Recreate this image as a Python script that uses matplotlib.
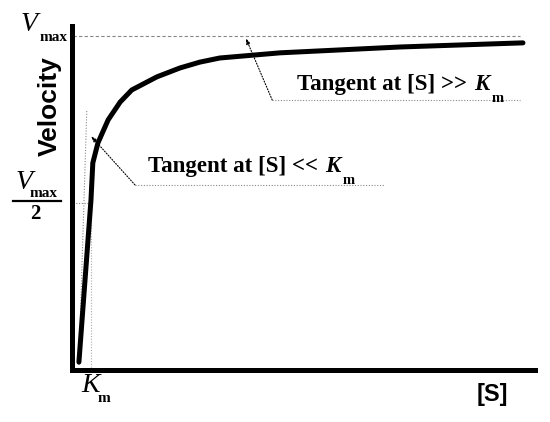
import numpy as np
import matplotlib
matplotlib.use("Agg")
from matplotlib import pyplot as plt

# curve (arbitrary units, axis 0..100 / 0..1)
S = [1.6, 4.2, 4.6, 5.7, 7.9, 10.5, 13.0, 18.4, 23.4, 27.7, 32.0, 45.0, 70.9, 97.4]
V = [0.023, 0.494, 0.602, 0.660, 0.727, 0.779, 0.814, 0.852, 0.878, 0.895, 0.907, 0.922, 0.939, 0.951]
vmax = 0.971
km = 4.2
tangent_low_x = [1.6, 3.3]
tangent_low_y = [0.015, 0.756]

W, H = 550, 422
fig = plt.figure(figsize=(W / 100, H / 100), dpi=100)
ax = fig.add_axes([71.5 / W, 1 - 370 / H, (535 - 71.5) / W, (370 - 26) / H])
ax.set_xlim(0, 100)
ax.set_ylim(0, 1)
for side in ['top', 'right']:
    ax.spines[side].set_visible(False)
for side in ['left', 'bottom']:
    ax.spines[side].set_linewidth(3.6)
    ax.spines[side].set_capstyle('projecting')
ax.set_xticks([])
ax.set_yticks([])

gray = '#888888'
# reference lines
ax.plot([0.3, 96.7], [vmax, vmax], ls=(0, (3, 2)), color=gray, lw=0.8)
ax.plot([0.3, km], [vmax / 2, vmax / 2], ls=(0, (1, 1.5)), color=gray, lw=0.8)
ax.plot([km, km], [0, vmax / 2], ls=(0, (1, 1.5)), color='#aaaaaa', lw=0.8)
ax.plot(tangent_low_x, tangent_low_y, ls=(0, (1, 1.5)), color=gray, lw=0.8)

# the curve
ax.plot(S, V, color='black', lw=3.6, solid_capstyle='round', solid_joinstyle='round')

# annotation leaders
ax.plot([13.7, 67.5], [0.538, 0.538], ls=(0, (1, 1.5)), color=gray, lw=0.8)
ax.annotate('', xy=(4.2, 0.68), xytext=(13.7, 0.538),
            arrowprops=dict(arrowstyle='-|>,head_length=0.35,head_width=0.12',
                            color='black', lw=0.8, ls=(0, (1, 1.5)), shrinkA=0, shrinkB=0))
ax.plot([43.3, 96.7], [0.785, 0.785], ls=(0, (1, 1.5)), color=gray, lw=0.8)
ax.annotate('', xy=(37.6, 0.965), xytext=(43.3, 0.785),
            arrowprops=dict(arrowstyle='-|>,head_length=0.35,head_width=0.12',
                            color='black', lw=0.8, ls=(0, (1, 1.5)), shrinkA=0, shrinkB=0))


def ft(x, y, s, **kw):
    return fig.text(x / W, 1 - y / H, s, **kw)


serif = 'Liberation Serif'
sans = 'Liberation Sans'
renderer = fig.canvas.get_renderer()


def tangent_label(x, y, s):
    t = ft(x, y, s, family=serif, weight='bold', size=16.5, va='baseline')
    x1 = t.get_window_extent(renderer).x1
    k = ft(x1 + 7, y, 'K', family=serif, weight='bold', style='italic', size=16.5, va='baseline')
    x2 = k.get_window_extent(renderer).x1
    ft(x2 + 2, y + 12, 'm', family=serif, weight='bold', size=10.5, va='baseline')


tangent_label(148, 172, 'Tangent at [S] <<')
tangent_label(297, 90, 'Tangent at [S] >>')

# axis labels
ft(50, 106, 'Velocity', family=sans, weight='bold', size=19, rotation=90, ha='center', va='center')
ft(492, 394, '[S]', family=sans, weight='bold', size=17, ha='center', va='center')

# Vmax
ft(21, 31, 'V', family=serif, style='italic', size=20, va='baseline')
ft(40, 41, 'max', family=serif, weight='bold', size=11, va='baseline')
# Vmax / 2
ft(16, 189, 'V', family=serif, style='italic', size=20, va='baseline')
ft(30, 197, 'max', family=serif, weight='bold', size=11, va='baseline')
fig.add_artist(plt.Line2D([13 / W, 61 / W], [1 - 200.5 / H, 1 - 200.5 / H], color='black', lw=1.6))
ft(35.5, 219, '2', family=serif, weight='bold', size=15, ha='center', va='baseline')
# Km
ft(81, 392, 'K', family=serif, style='italic', size=20, va='baseline')
ft(98, 402, 'm', family=serif, weight='bold', size=11, va='baseline')

fig.savefig('out.png', dpi=100, facecolor='white')
